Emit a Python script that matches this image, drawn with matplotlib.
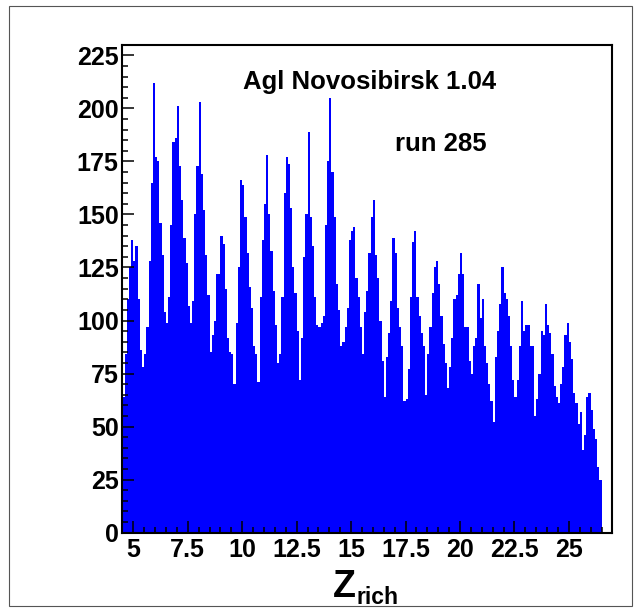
import numpy as np
import matplotlib
matplotlib.use("Agg")
import matplotlib.pyplot as plt
from matplotlib.ticker import MultipleLocator, FormatStrFormatter
from matplotlib.patches import Rectangle

plt.rcParams['font.family'] = ['Liberation Sans', 'DejaVu Sans']
plt.rcParams['font.weight'] = 'bold'

# histogram binning: 0.1 wide bins starting at 4.5
x_lo = 4.5
bin_w = 0.1

# counts per bin, one list per charge peak (Z-0.5 .. Z+0.5)
z05 = [64, 84, 110, 125, 138, 128, 135, 110, 86, 78]
z06 = [84, 97, 128, 165, 212, 177, 175, 146, 131, 104]
z07 = [99, 111, 145, 184, 186, 201, 173, 157, 139, 127]
z08 = [107, 99, 109, 150, 173, 203, 169, 152, 131, 112]
z09 = [85, 93, 100, 122, 122, 140, 136, 115, 92, 85]
z10 = [84, 70, 99, 125, 166, 164, 149, 132, 116, 106]
z11 = [88, 84, 71, 111, 138, 155, 178, 150, 133, 114]
z12 = [98, 80, 84, 111, 160, 177, 174, 153, 125, 113]
z13 = [95, 72, 92, 130, 150, 189, 149, 135, 111, 98]
z14 = [97, 99, 102, 145, 175, 205, 170, 149, 117, 105]
z15 = [88, 90, 97, 106, 138, 142, 144, 120, 111, 97]
z16 = [84, 104, 114, 132, 149, 157, 131, 120, 100, 81]
z17 = [64, 83, 94, 109, 139, 132, 106, 97, 88, 62]
z18 = [63, 77, 111, 137, 142, 111, 102, 94, 88, 65]
z19 = [84, 97, 113, 125, 128, 117, 102, 89, 80, 68]
z20 = [78, 92, 110, 112, 122, 132, 122, 97, 97, 81]
z21 = [75, 88, 92, 117, 101, 110, 88, 80, 70, 62]
z22 = [52, 83, 95, 108, 125, 113, 110, 102, 88, 72]
z23 = [64, 72, 88, 109, 95, 98, 98, 88, 88, 55]
z24 = [63, 75, 95, 93, 108, 98, 94, 84, 69, 64]
z25 = [61, 70, 78, 93, 99, 90, 82, 66, 61, 51]
z26 = [57, 39, 46, 64, 66, 58, 49, 44, 31, 25]

counts = np.concatenate([z05, z06, z07, z08, z09, z10, z11, z12, z13, z14, z15,
                         z16, z17, z18, z19, z20, z21, z22, z23, z24, z25, z26])
edges = x_lo + bin_w * np.arange(len(counts) + 1)

fig = plt.figure(figsize=(6.41, 6.09), dpi=100)
W, H = 641.0, 609.0
ax = fig.add_axes([122.4 / W, 1 - 532.7 / H, (612.4 - 122.4) / W, (532.7 - 44.7) / H])

# one filled step polygon, drawn without antialiasing (crisp like ROOT)
ax.fill_between(edges, np.append(counts, counts[-1]), step='post',
                color='#0000ff', linewidth=0, antialiased=False)

ax.set_xlim(4.5, 27)
ax.set_ylim(0, 230)

ax.xaxis.set_major_locator(MultipleLocator(2.5))
ax.xaxis.set_minor_locator(MultipleLocator(0.5))
ax.yaxis.set_major_locator(MultipleLocator(25))
ax.yaxis.set_minor_locator(MultipleLocator(5))
ax.xaxis.set_major_formatter(FormatStrFormatter('%g'))
ax.yaxis.set_major_formatter(FormatStrFormatter('%d'))

ax.tick_params(which='both', direction='in', top=False, right=False, color='black')
ax.tick_params(which='major', length=8.6, width=1.1, labelsize=18)
ax.tick_params(which='minor', length=4.3, width=1.1)
ax.tick_params(axis='x', which='major', pad=4)
ax.tick_params(axis='y', which='major', pad=2.7)
for lab in ax.get_xticklabels() + ax.get_yticklabels():
    lab.set_fontweight('bold')
for sp in ax.spines.values():
    sp.set_linewidth(1.5)
    sp.set_color('black')
    sp.set_zorder(3)

fig.text(370 / W, 1 - 89 / H, 'Agl Novosibirsk 1.04', ha='center', va='baseline',
         fontsize=18.5, fontweight='bold')
fig.text(441 / W, 1 - 151 / H, 'run 285', ha='center', va='baseline',
         fontsize=18.5, fontweight='bold')

fig.text(333 / W, 1 - 597 / H, 'Z', ha='left', va='baseline', fontsize=27, fontweight='bold')
fig.text(356 / W, 1 - 604 / H, 'rich', ha='left', va='baseline', fontsize=16.5, fontweight='bold')

# canvas border
fig.patches.append(Rectangle((9 / W, 1 - 606 / H), (632 - 9) / W, (606 - 6) / H,
                             transform=fig.transFigure, fill=False,
                             edgecolor='#555555', linewidth=0.8))

fig.savefig('out.png', dpi=100)
